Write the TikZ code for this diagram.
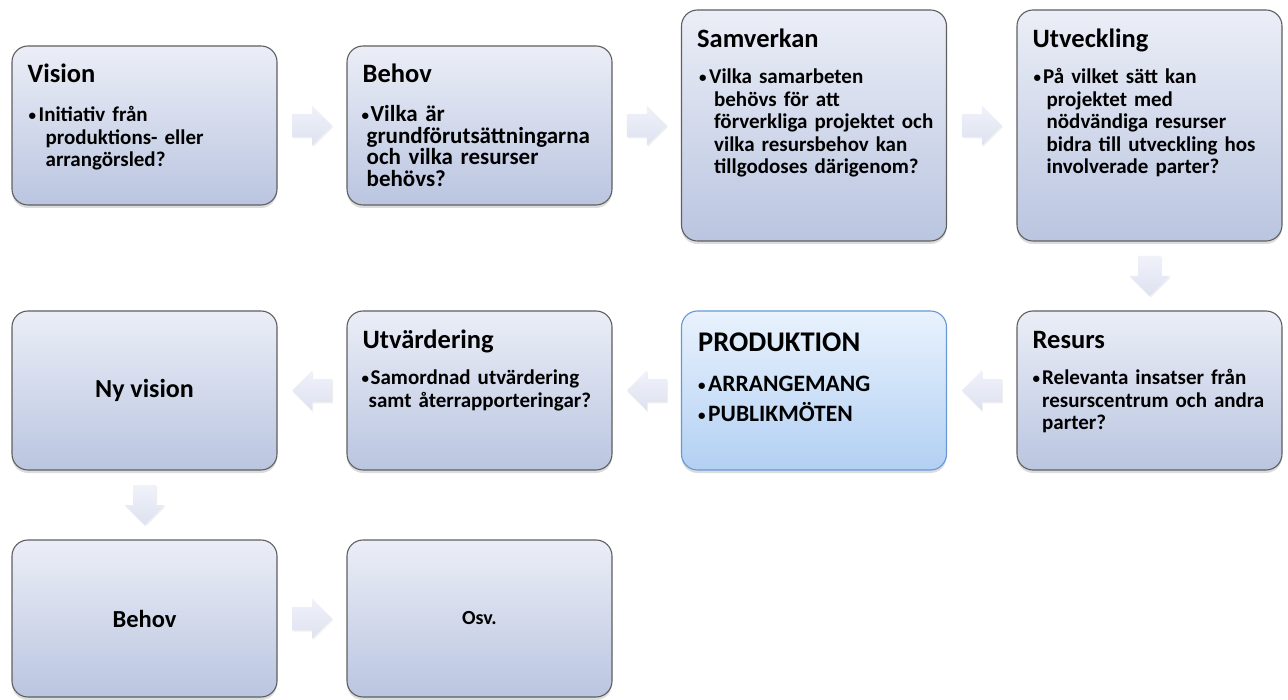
\documentclass[tikz,border=0pt]{standalone}
\usepackage{fontspec}
\setmainfont{Carlito}
\usetikzlibrary{shadows,calc}
\definecolor{boxtop}{RGB}{235,238,247}
\definecolor{boxbot}{RGB}{186,197,224}
\definecolor{boxline}{RGB}{95,95,95}
\definecolor{prodtop}{RGB}{233,242,253}
\definecolor{prodbot}{RGB}{178,208,243}
\definecolor{prodline}{RGB}{104,152,212}
\definecolor{arrtop}{RGB}{240,242,250}
\definecolor{arrbot}{RGB}{221,226,240}
% #1 = gap box width (bullet + space), #2 = hanging indent, #3 = text
\newcommand{\bdot}{{\fontsize{15}{15}\selectfont\raisebox{0.8pt}{•}}}
\newcommand{\bul}[3]{\hangindent=#2\hangafter=1\noindent\rule{0pt}{17pt}\makebox[#1][l]{\bdot}#3\par}
\tikzset{
  stage/.style={rectangle, rounded corners=16pt, draw=boxline, line width=1.1pt,
    top color=boxtop, bottom color=boxbot, minimum width=265pt, minimum height=159pt,
    inner sep=0pt, font=\bfseries,
    drop shadow={shadow xshift=0pt, shadow yshift=-3pt, opacity=0.28}},
  prodstage/.style={stage, draw=prodline, top color=prodtop, bottom color=prodbot},
  ttl/.style={anchor=base west, inner sep=0pt, font=\fontsize{26.5}{30}\selectfont\bfseries},
  body/.style={anchor=north west, inner sep=0pt, text width=262pt, align=left,
    font=\fontsize{21}{22.5}\selectfont\bfseries},
  arrowfill/.style={top color=arrtop, bottom color=arrbot,
    drop shadow={shadow xshift=1pt, shadow yshift=-1.5pt, opacity=0.13}},
  blockarrow/.pic={\path[arrowfill] (-20,-11.5) -- (0,-11.5) -- (0,-20) -- (20,0)
    -- (0,20) -- (0,11.5) -- (-20,11.5) -- cycle;},
}
\begin{document}
\begin{tikzpicture}[x=1pt,y=-1pt]
\useasboundingbox (0,0) rectangle (1288,700);
% row 1
\node[stage] (vision) at (144.5,125.5) {};
\node[stage] (behov) at (479.5,125.5) {};
\node[stage, minimum height=231pt] (samverkan) at (814,125.5) {};
\node[stage, minimum height=231pt] (utveckling) at (1149.5,125.5) {};
% row 2
\node[stage] (resurs) at (1149.5,390.5) {};
\node[prodstage] (produktion) at (814,390.5) {};
\node[stage] (utvardering) at (479.5,390.5) {};
\node[stage, font=\fontsize{26}{30}\selectfont\bfseries] (nyvision) at (144.5,390.5) {Ny vision};
% row 3
\node[stage, minimum height=157pt, font=\fontsize{24.5}{30}\selectfont\bfseries] (behovtva) at (144.5,618.5) {Behov};
\node[stage, minimum height=157pt, font=\fontsize{20}{24}\selectfont\bfseries] (osv) at (479.5,618.5) {Osv.};
% titles
\node[ttl] (visionT) at ($(vision.north west)+(16,37)$) {Vision};
\node[ttl] (behovT) at ($(behov.north west)+(16,37)$) {Behov};
\node[ttl] (samverkanT) at ($(samverkan.north west)+(16,38)$) {Samverkan};
\node[ttl] (utvecklingT) at ($(utveckling.north west)+(16,38)$) {Utveckling};
\node[ttl] (resursT) at ($(resurs.north west)+(16,38)$) {Resurs};
\node[ttl] (utvarderingT) at ($(utvardering.north west)+(16,38)$) {Utvärdering};
\node[ttl, font=\fontsize{28.5}{32}\selectfont\bfseries] (produktionT) at ($(produktion.north west)+(17,41)$) {PRODUKTION};
% bodies
\node[body] (visionB) at ($(vision.north west)+(17,59)$) {\bul{10pt}{17pt}{Initiativ från\newline produktions- eller\newline arrangörsled?}};
\node[body, font=\fontsize{23}{21.5}\selectfont\bfseries] (behovB) at ($(behov.north west)+(15,59)$) {\bul{9pt}{5pt}{Vilka är\newline grundförutsättningarna\newline och vilka resurser\newline behövs?}};
\node[body] (samverkanB) at ($(samverkan.north west)+(18,57)$) {\bul{10pt}{15pt}{Vilka samarbeten\newline behövs för att\newline förverkliga projektet och\newline vilka resursbehov kan\newline tillgodoses därigenom?}};
\node[body] (utvecklingB) at ($(utveckling.north west)+(17,57)$) {\bul{9.5pt}{13pt}{På vilket sätt kan\newline projektet med\newline nödvändiga resurser\newline bidra till utveckling hos\newline involverade parter?}};
\node[body] (resursB) at ($(resurs.north west)+(16,57)$) {\bul{9.5pt}{9.5pt}{Relevanta insatser från\newline resurscentrum och andra\newline parter?}};
\node[body] (utvarderingB) at ($(utvardering.north west)+(15,57)$) {\bul{9pt}{7pt}{Samordnad utvärdering\newline samt återrapporteringar?}};
\node[body, font=\fontsize{23.5}{30}\selectfont\bfseries] (produktionB) at ($(produktion.north west)+(17,64)$) {\bul{10pt}{10pt}{ARRANGEMANG}\bul{10pt}{10pt}{PUBLIKMÖTEN}};
% arrows
\coordinate (m1) at ($(vision.east)!0.5!(behov.west)$);
\coordinate (m2) at ($(behov.east)!0.5!(samverkan.west)$);
\coordinate (m3) at ($(samverkan.east)!0.5!(utveckling.west)$);
\coordinate (m4) at ($(utveckling.south)!0.5!(resurs.north)$);
\coordinate (m5) at ($(resurs.west)!0.5!(produktion.east)$);
\coordinate (m6) at ($(produktion.west)!0.5!(utvardering.east)$);
\coordinate (m7) at ($(utvardering.west)!0.5!(nyvision.east)$);
\coordinate (m8) at ($(nyvision.south)!0.5!(behovtva.north)$);
\coordinate (m9) at ($(behovtva.east)!0.5!(osv.west)$);
\pic at (m1) {blockarrow};
\pic at (m2) {blockarrow};
\pic at (m3) {blockarrow};
\pic[rotate=-90] at (m4) {blockarrow};
\pic[rotate=180] at (m5) {blockarrow};
\pic[rotate=180] at (m6) {blockarrow};
\pic[rotate=180] at (m7) {blockarrow};
\pic[rotate=-90] at (m8) {blockarrow};
\pic at (m9) {blockarrow};
\end{tikzpicture}
\end{document}
